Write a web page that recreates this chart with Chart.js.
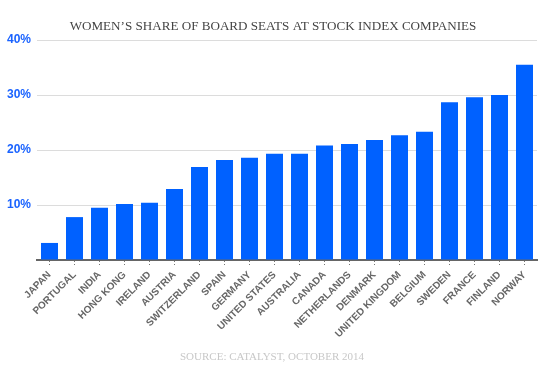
<!DOCTYPE html>
<html>
<head>
<meta charset="utf-8">
<script src="https://cdn.jsdelivr.net/npm/chart.js@4/dist/chart.umd.min.js"></script>
<style>
html,body{margin:0;padding:0;background:#fff;}
#wrap{width:545px;height:380px;position:relative;}
</style>
</head>
<body>
<div id="wrap"><canvas id="c" width="545" height="380"></canvas></div>
<script>
const countries = ["JAPAN","PORTUGAL","INDIA","HONG KONG","IRELAND","AUSTRIA","SWITZERLAND","SPAIN","GERMANY","UNITED STATES","AUSTRALIA","CANADA","NETHERLANDS","DENMARK","UNITED KINGDOM","BELGIUM","SWEDEN","FRANCE","FINLAND","NORWAY"];
const sharePct = [3.1,7.8,9.5,10.2,10.4,12.9,16.9,18.2,18.6,19.3,19.3,20.8,21.1,21.8,22.7,23.3,28.7,29.6,30.0,35.5];
const yTicks = [0,10,20,30,40];
const titleText = "WOMEN\u2019S SHARE OF BOARD SEATS AT STOCK INDEX COMPANIES";
const sourceText = "SOURCE: CATALYST, OCTOBER 2014";

const textPlugin = {
  id:'texts',
  afterDraw(chart){
    const ctx = chart.ctx;
    ctx.save();
    ctx.textAlign='center';
    ctx.textBaseline='middle';
    ctx.fillStyle='#444';
    ctx.font='13.1px "Liberation Serif", "DejaVu Serif", serif';
    ctx.fillText(titleText, 273, 26.5);
    ctx.fillStyle='#c8c8c8';
    ctx.font='11px "Liberation Serif", "DejaVu Serif", serif';
    ctx.fillText(sourceText, 272, 357);
    ctx.restore();
  }
};

new Chart(document.getElementById('c'), {
  type:'bar',
  data:{
    labels:countries,
    datasets:[{data:sharePct, backgroundColor:'#0061ff', barPercentage:0.68, categoryPercentage:1.0}]
  },
  options:{
    responsive:false,
    animation:false,
    layout:{padding:{top:40,left:0,right:8,bottom:0}},
    plugins:{legend:{display:false}, tooltip:{enabled:false}},
    scales:{
      x:{
        afterFit(s){ s.height=120; },
        grid:{display:true, drawOnChartArea:false, drawTicks:true, offset:false, tickLength:7, tickColor:'#777', tickBorderDash:[1,2], tickWidth:1},
        border:{display:true, color:'#666', width:2},
        ticks:{maxRotation:45, minRotation:45, autoSkip:false, color:'#666', padding:2,
          font:{family:'"Liberation Sans", Arial, sans-serif', size:10, weight:'bold'}}
      },
      y:{
        min:0, max:40,
        afterFit(s){ s.width=37; },
        afterBuildTicks(s){ s.ticks = yTicks.map(v=>({value:v})); },
        grid:{color:'#dcdcdc', lineWidth:1, drawTicks:false},
        border:{display:false},
        ticks:{color:'#1a63ff', padding:6,
          font:{family:'"Liberation Sans", Arial, sans-serif', size:12, weight:'bold'},
          callback:(v)=> v===0 ? '' : v+'%'}
      }
    }
  },
  plugins:[textPlugin]
});
</script>
</body>
</html>
